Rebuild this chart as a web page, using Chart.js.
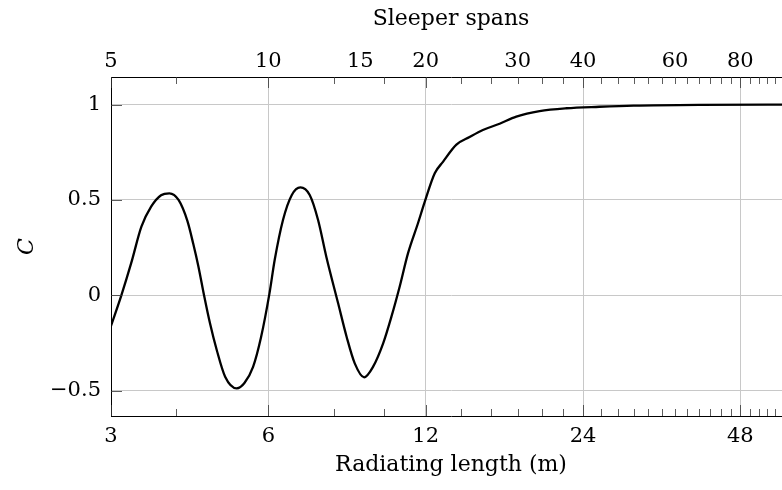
<!DOCTYPE html>
<html>
<head>
<meta charset="utf-8">
<script src="https://cdn.jsdelivr.net/npm/chart.js@4/dist/chart.umd.min.js"></script>
<style>
  html, body { margin: 0; padding: 0; background: #fff; overflow: hidden; }
  #wrap { width: 800px; height: 490px; }
</style>
</head>
<body>
<div id="wrap"><canvas id="chart"></canvas></div>
<script>
// radiating length in metres, and the coefficient C
const radiatingLength = [3.00, 3.14, 3.28, 3.43, 3.58, 3.74, 3.88, 4.04, 4.20, 4.31,
  4.41, 4.52, 4.64, 4.78, 4.96, 5.22, 5.40, 5.61, 5.81, 6.03,
  6.17, 6.40, 6.65, 6.91, 7.20, 7.47, 7.75, 8.16, 8.47, 8.78,
  9.15, 9.52, 9.95, 10.32, 10.70, 11.10, 11.60, 11.95, 12.49, 12.95,
  13.74, 14.56, 15.44, 16.62, 17.89, 19.82, 22.29, 25.8, 30, 40, 60];
const coefficientC = [-0.16, 0.00, 0.17, 0.36, 0.465, 0.525, 0.535, 0.50, 0.39, 0.27,
  0.15, 0.00, -0.147, -0.287, -0.427, -0.488, -0.46, -0.375, -0.22, 0.01,
  0.185, 0.395, 0.525, 0.566, 0.526, 0.395, 0.20, -0.042, -0.217, -0.357,
  -0.43, -0.374, -0.252, -0.112, 0.045, 0.22, 0.378, 0.49, 0.64, 0.70,
  0.79, 0.83, 0.867, 0.90, 0.937, 0.966, 0.981, 0.989, 0.995, 0.999, 1.0];

// axis ticks
const lengthTicks = [3, 6, 12, 24, 48];
const spanTickPositions = [3, 6, 9, 12, 18, 24, 36, 48]; // metres (0.6 m per span)
const spanTickLabels = ['5', '10', '15', '20', '30', '40', '60', '80'];
const cTicks = [-0.5, 0, 0.5, 1];
const minorLengthTicks = [4, 8, 10, 14, 16, 18, 20, 22, 26, 28, 30, 32, 34, 36, 38, 40,
  42, 44, 46, 50, 52, 54, 56, 58];

const serif = "'DejaVu Serif', 'Liberation Serif', serif";
const tickFont = { family: serif, size: 21 };

const points = radiatingLength.map((x, i) => ({ x: x, y: coefficientC[i] }));

// pgfplots style: tick marks point into the plot
const innerTicks = {
  id: 'innerTicks',
  afterDraw(chart) {
    const ctx = chart.ctx;
    const a = chart.chartArea;
    const xs = chart.scales.x;
    const ys = chart.scales.y;
    ctx.save();
    ctx.strokeStyle = '#333';
    ctx.lineWidth = 0.8;
    ctx.beginPath();
    minorLengthTicks.forEach(function(v) {
      const px = Math.round(xs.getPixelForValue(v)) + 0.5;
      ctx.moveTo(px, a.bottom);
      ctx.lineTo(px, a.bottom - 7);
      ctx.moveTo(px, a.top);
      ctx.lineTo(px, a.top + 7);
    });
    lengthTicks.forEach(function(v) {
      const px = Math.round(xs.getPixelForValue(v)) + 0.5;
      ctx.moveTo(px, a.bottom);
      ctx.lineTo(px, a.bottom - 11);
      ctx.moveTo(px, a.top);
      ctx.lineTo(px, a.top + 11);
    });
    cTicks.forEach(function(v) {
      const py = Math.round(ys.getPixelForValue(v)) + 0.5;
      ctx.moveTo(a.left, py);
      ctx.lineTo(a.left + 11, py);
    });
    ctx.stroke();
    ctx.restore();
  }
};

new Chart(document.getElementById('chart'), {
  type: 'line',
  data: {
    datasets: [{
      data: points,
      borderColor: '#000',
      borderWidth: 2.3,
      pointRadius: 0,
      fill: false,
      cubicInterpolationMode: 'monotone'
    }]
  },
  options: {
    responsive: true,
    maintainAspectRatio: false,
    animation: false,
    devicePixelRatio: 1,
    layout: { padding: { left: 0, right: 9, top: 0, bottom: 0 } },
    plugins: {
      legend: { display: false },
      tooltip: { enabled: false }
    },
    scales: {
      x: {
        type: 'logarithmic',
        position: 'bottom',
        min: 3,
        max: 60,
        afterBuildTicks: function(scale) {
          scale.ticks = lengthTicks.map(v => ({ value: v }));
        },
        afterFit: function(scale) { scale.height = 74; },
        ticks: {
          autoSkip: false,
          maxRotation: 0,
          padding: 8,
          color: '#000',
          font: tickFont,
          callback: function(value) { return String(value); }
        },
        grid: {
          drawTicks: false,
          color: function(c) { return c.tick && c.tick.value === 3 ? 'rgba(0,0,0,0)' : '#c8c8c8'; },
          lineWidth: 1
        },
        border: { display: true, color: '#000', width: 1 },
        title: {
          display: true,
          text: 'Radiating length (m)',
          color: '#000',
          font: { family: serif, size: 22 },
          padding: { top: 0, bottom: 12 }
        }
      },
      x2: {
        type: 'logarithmic',
        position: 'top',
        min: 3,
        max: 60,
        afterBuildTicks: function(scale) {
          scale.ticks = spanTickPositions.map(v => ({ value: v }));
        },
        afterFit: function(scale) { scale.height = 77; },
        ticks: {
          autoSkip: false,
          maxRotation: 0,
          padding: 3,
          color: '#000',
          font: tickFont,
          callback: function(value, index) { return spanTickLabels[index]; }
        },
        grid: { display: false, drawTicks: false },
        border: { display: true, color: '#000', width: 1 },
        title: {
          display: true,
          text: 'Sleeper spans',
          color: '#000',
          font: { family: serif, size: 22 },
          padding: { top: 6, bottom: 0 }
        }
      },
      y: {
        type: 'linear',
        min: -0.633,
        max: 1.145,
        afterBuildTicks: function(scale) {
          scale.ticks = cTicks.map(v => ({ value: v }));
        },
        afterFit: function(scale) { scale.width = 111; },
        ticks: {
          padding: 10,
          color: '#000',
          font: tickFont,
          callback: function(value) { return value < 0 ? '\u2212' + Math.abs(value) : String(value); }
        },
        grid: { drawTicks: false, color: '#c8c8c8', lineWidth: 1 },
        border: { display: true, color: '#000', width: 1 },
        title: {
          display: true,
          text: 'C',
          color: '#000',
          font: { family: serif, size: 22, style: 'italic' },
          padding: { top: 14, bottom: 0 }
        }
      }
    }
  },
  plugins: [innerTicks]
});
</script>
</body>
</html>
